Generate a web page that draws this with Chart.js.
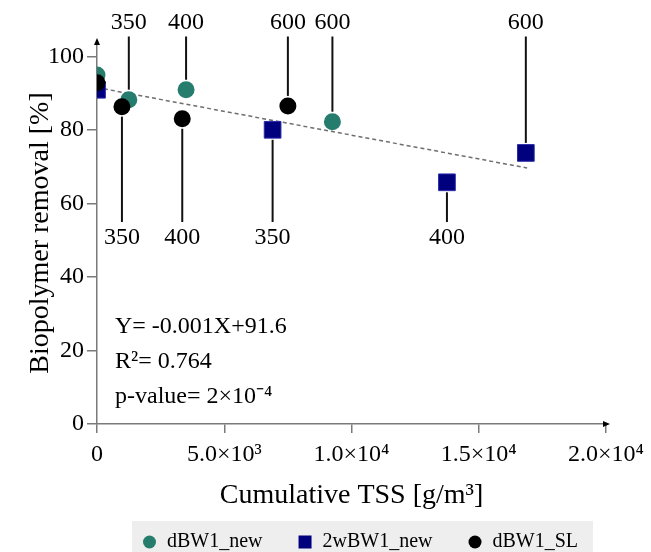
<!DOCTYPE html>
<html>
<head>
<meta charset="utf-8">
<script src="https://cdn.jsdelivr.net/npm/chart.js@4.4.1/dist/chart.umd.min.js"></script>
<style>
  html, body { margin: 0; padding: 0; background: #fff; }
  #wrap { width: 651px; height: 552px; }
</style>
</head>
<body>
<div id="wrap"><canvas id="removalChart" width="651" height="552"></canvas></div>
<script>
const seriesNames = ['dBW1_new', '2wBW1_new', 'dBW1_SL'];
const seriesColors = ['#267d6e', '#00007f', '#000000'];
const seriesShapes = ['circle', 'rect', 'circle'];

const dbwNewTss = [0, 1250, 3500, 9250];
const dbwNewRemoval = [95, 88.3, 91, 82.3];
const twoWbwNewTss = [0, 6900, 13750, 16850];
const twoWbwNewRemoval = [91, 80.1, 65.8, 73.8];
const dbwSlTss = [0, 980, 3350, 7500];
const dbwSlRemoval = [92.9, 86.4, 83.1, 86.6];

const trendTss = [0, 16900];
const trendRemoval = [91.6, 69.7];

const xTickValues = [0, 5000, 10000, 15000, 20000];
const xTickLabels = ['0', '5.0×10³', '1.0×10⁴', '1.5×10⁴', '2.0×10⁴'];
const yTickValues = [0, 20, 40, 60, 80, 100];

// numbers written next to some of the points, above or below them
const calloutTss = [1250, 3500, 7500, 9250, 16850, 980, 3350, 6900, 13750];
const calloutRemoval = [88.3, 91, 86.6, 82.3, 73.8, 86.4, 83.1, 80.1, 65.8];
const calloutText = ['350', '400', '600', '600', '600', '350', '400', '350', '400'];
const calloutAbove = [true, true, true, true, true, false, false, false, false];

const fitLines = ['Y= -0.001X+91.6', 'R²= 0.764', 'p-value= 2×10⁻⁴'];

const serif = "'Liberation Serif', 'Times New Roman', serif";
const axisGray = '#7a7a7a';

function toPoints(xs, ys) {
  return xs.map((x, i) => ({ x: x, y: ys[i] }));
}

const extrasPlugin = {
  id: 'extras',
  afterDraw(chart) {
    const ctx = chart.ctx;
    const xs = chart.scales.x;
    const ys = chart.scales.y;
    const area = chart.chartArea;
    ctx.save();

    // axis arrows
    ctx.fillStyle = '#000';
    ctx.beginPath();
    ctx.moveTo(area.left, area.top - 4);
    ctx.lineTo(area.left - 3, area.top + 3);
    ctx.lineTo(area.left + 3, area.top + 3);
    ctx.closePath();
    ctx.fill();
    ctx.beginPath();
    ctx.moveTo(area.right + 4, area.bottom);
    ctx.lineTo(area.right - 3, area.bottom - 3);
    ctx.lineTo(area.right - 3, area.bottom + 3);
    ctx.closePath();
    ctx.fill();

    // callouts
    ctx.strokeStyle = '#111';
    ctx.lineWidth = 2;
    ctx.font = '24px ' + serif;
    ctx.textAlign = 'center';
    ctx.textBaseline = 'middle';
    calloutTss.forEach((t, i) => {
      const px = xs.getPixelForValue(t);
      const py = ys.getPixelForValue(calloutRemoval[i]);
      let lineEnd, textY, lineStart;
      if (calloutAbove[i]) {
        lineStart = py - 10;
        lineEnd = ys.getPixelForValue(105.5);
        textY = ys.getPixelForValue(109.2);
      } else {
        lineStart = py + 10;
        lineEnd = ys.getPixelForValue(55);
        textY = ys.getPixelForValue(50.6);
      }
      ctx.beginPath();
      ctx.moveTo(px, lineStart);
      ctx.lineTo(px, lineEnd);
      ctx.stroke();
      ctx.fillStyle = '#000';
      ctx.fillText(calloutText[i], px, textY);
    });

    // regression text
    ctx.textAlign = 'left';
    ctx.font = '24px ' + serif;
    fitLines.forEach((line, i) => {
      ctx.fillText(line, area.left + 18, area.bottom - 97 + i * 35);
    });

    // legend
    ctx.font = '20px ' + serif;
    const widths = seriesNames.map((n) => ctx.measureText(n).width);
    const legendY = 542;
    ctx.fillStyle = '#eeeeee';
    ctx.fillRect(132, 521, 461, 31);
    let lx = 143;
    seriesNames.forEach((name, i) => {
      ctx.fillStyle = seriesColors[i];
      if (seriesShapes[i] === 'rect') {
        ctx.fillRect(lx, legendY - 6.5, 13, 13);
      } else {
        ctx.beginPath();
        ctx.arc(lx + 6.5, legendY, 6.5, 0, Math.PI * 2);
        ctx.fill();
      }
      ctx.fillStyle = '#000';
      ctx.fillText(name, lx + 24, legendY);
      lx += 24 + widths[i] + 36;
    });

    ctx.restore();
  },
};

function makeSeries(i, xs, ys, order) {
  const isRect = seriesShapes[i] === 'rect';
  return {
    label: seriesNames[i],
    data: toPoints(xs, ys),
    pointStyle: seriesShapes[i],
    pointRadius: isRect ? 11.8 : 8.5,
    backgroundColor: seriesColors[i],
    borderColor: isRect ? '#2a2aa8' : seriesColors[i],
    borderWidth: isRect ? 1 : 0,
    showLine: false,
    order: order,
  };
}

document.addEventListener('DOMContentLoaded', function () {
  const context = document.getElementById('removalChart').getContext('2d');
  new Chart(context, {
    type: 'scatter',
    data: {
      datasets: [
        makeSeries(0, dbwNewTss, dbwNewRemoval, 1),
        makeSeries(1, twoWbwNewTss, twoWbwNewRemoval, 2),
        makeSeries(2, dbwSlTss, dbwSlRemoval, 0),
        {
          type: 'line',
          label: 'trend',
          data: toPoints(trendTss, trendRemoval),
          borderColor: '#6e6e6e',
          borderWidth: 1.5,
          borderDash: [4, 3],
          pointRadius: 0,
          fill: false,
          order: 3,
        },
      ],
    },
    options: {
      responsive: false,
      animation: false,
      layout: { padding: { top: 42, right: 45, left: 0, bottom: 0 } },
      plugins: { legend: { display: false }, tooltip: { enabled: false } },
      scales: {
        x: {
          type: 'linear',
          min: 0,
          max: 20000,
          afterBuildTicks: (s) => {
            s.ticks = xTickValues.map((v) => ({ value: v }));
          },
          ticks: {
            autoSkip: false,
            maxRotation: 0,
            padding: 7,
            color: '#000',
            font: { family: serif, size: 24 },
            callback: (v) => xTickLabels[xTickValues.indexOf(v)],
          },
          grid: { drawOnChartArea: false, tickLength: 9, color: axisGray, lineWidth: 1.5 },
          border: { color: axisGray, width: 1.5 },
          title: {
            display: true,
            text: 'Cumulative TSS [g/m³]',
            color: '#000',
            font: { family: serif, size: 28 },
            padding: { top: 0, bottom: 40 },
          },
          afterFit: (s) => { s.height = 128; },
        },
        y: {
          min: 0,
          max: 104,
          afterBuildTicks: (s) => {
            s.ticks = yTickValues.map((v) => ({ value: v }));
          },
          ticks: {
            padding: 3,
            color: '#000',
            font: { family: serif, size: 24 },
          },
          grid: { drawOnChartArea: false, tickLength: 10, color: axisGray, lineWidth: 1.5 },
          border: { color: axisGray, width: 1.5 },
          title: {
            display: true,
            text: 'Biopolymer removal [%]',
            color: '#000',
            font: { family: serif, size: 28 },
            padding: { top: 24, bottom: 0 },
          },
          afterFit: (s) => { s.width = 97; },
        },
      },
    },
    plugins: [extrasPlugin],
  });
});
</script>
</body>
</html>
